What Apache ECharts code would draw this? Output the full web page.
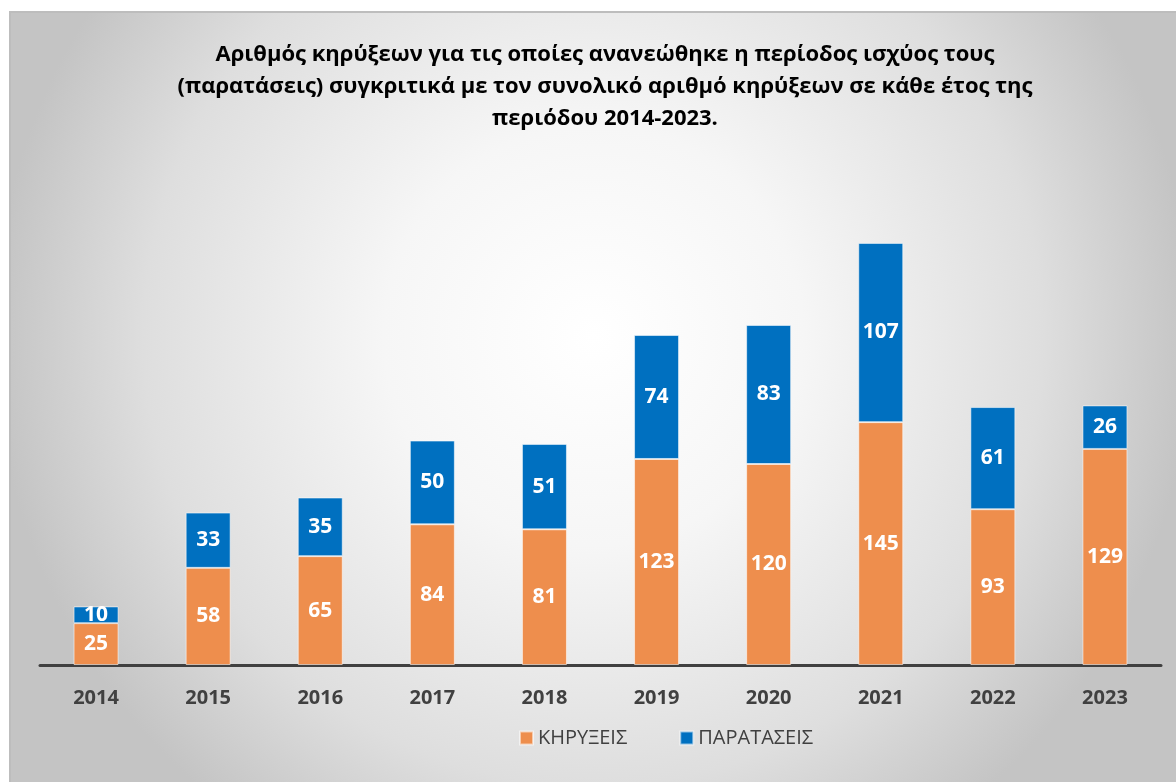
<!DOCTYPE html>
<html>
<head>
<meta charset="utf-8">
<script src="https://cdn.jsdelivr.net/npm/echarts@6/dist/echarts.min.js"></script>
<style>
  html, body { margin: 0; padding: 0; background: #ffffff; width: 1176px; height: 782px; overflow: hidden; }
  #chart { position: absolute; left: 9px; top: 11px; width: 1167px; height: 771px;
           border-left: 2px solid #bdbdbd; border-top: 2px solid #bdbdbd; box-sizing: border-box; }
</style>
</head>
<body>
<div id="chart"></div>
<script>
// Years on the horizontal axis
const years = ['2014', '2015', '2016', '2017', '2018', '2019', '2020', '2021', '2022', '2023'];
// Notices per year (bottom segment)
const kirykseis = [25, 58, 65, 84, 81, 123, 120, 145, 93, 129];
// Extensions per year (top segment)
const parataseis = [10, 33, 35, 50, 51, 74, 83, 107, 61, 26];

const seriesNames = ['ΚΗΡΥΞΕΙΣ', 'ΠΑΡΑΤΑΣΕΙΣ'];
const titleText = 'Αριθμός κηρύξεων για τις οποίες ανανεώθηκε η περίοδος ισχύος τους\n(παρατάσεις) συγκριτικά με τον συνολικό αριθμό κηρύξεων σε κάθε έτος της\nπεριόδου 2014-2023.';

const FONT = '"Open Sans", "Noto Sans", sans-serif';

const chart = echarts.init(document.getElementById('chart'));

const segmentLabel = {
  show: true,
  position: 'inside',
  color: '#ffffff',
  fontWeight: 'bold',
  fontSize: 21,
  fontFamily: FONT
};

chart.setOption({
  backgroundColor: {
    type: 'radial', x: 0.5, y: 0.42, r: 0.78,
    colorStops: [
      { offset: 0, color: '#ffffff' },
      { offset: 0.35, color: '#f6f6f6' },
      { offset: 0.75, color: '#dedede' },
      { offset: 1, color: '#c4c4c4' }
    ]
  },
  animation: false,
  title: {
    text: titleText,
    left: 589,
    textAlign: 'center',
    top: 21,
    textStyle: {
      fontFamily: FONT,
      fontWeight: 'bold',
      fontSize: 22,
      lineHeight: 32,
      color: '#000000'
    }
  },
  legend: {
    data: seriesNames,
    top: 710,
    left: 503,
    itemWidth: 13,
    itemHeight: 13,
    itemGap: 52,
    icon: 'rect',
    textStyle: { fontFamily: FONT, fontSize: 20, color: '#404040' }
  },
  grid: { left: 29, width: 1121, top: 216.5, bottom: 117, containLabel: false },
  xAxis: {
    type: 'category',
    data: years,
    axisLine: { show: true, lineStyle: { color: '#404040', width: 3 } },
    axisTick: { show: false },
    axisLabel: {
      margin: 23,
      fontFamily: FONT,
      fontWeight: 'bold',
      fontSize: 20,
      color: '#404040'
    }
  },
  yAxis: {
    type: 'value',
    min: 0,
    max: 260,
    show: false,
    splitLine: { show: false }
  },
  series: [
    {
      name: seriesNames[0],
      type: 'bar',
      stack: 'total',
      data: kirykseis,
      barWidth: 45,
      itemStyle: { color: '#EE8E4D', borderColor: 'rgba(255,255,255,0.55)', borderWidth: 1 },
      label: segmentLabel
    },
    {
      name: seriesNames[1],
      type: 'bar',
      stack: 'total',
      data: parataseis,
      barWidth: 45,
      itemStyle: { color: '#0070C0', borderColor: 'rgba(255,255,255,0.55)', borderWidth: 1 },
      label: segmentLabel
    }
  ]
});
</script>
</body>
</html>
